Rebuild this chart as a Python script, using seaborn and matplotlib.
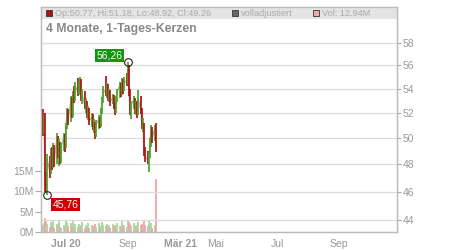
import numpy as np
import pandas as pd
import matplotlib
matplotlib.use("Agg")
import matplotlib.pyplot as plt
import matplotlib.ticker as mticker
from matplotlib.patches import Rectangle
import seaborn as sns

# ---------------- data ----------------
dates = pd.bdate_range("2020-06-08", "2020-09-29")
opens = [52.0, 50.6, 51.8, 46.5, 46.2,
         48.3, 47.5, 48.9, 47.9, 49.2,
         48.1, 50.0, 48.8, 49.5, 48.3,
         49.3, 50.1, 49.4, 50.9, 52.0,
         51.4, 53.0, 51.9, 53.5, 53.1,
         54.3, 53.7, 54.4, 54.6, 53.3,
         53.6, 52.6, 52.9, 51.9, 52.3,
         51.3, 51.7, 50.9, 51.2, 50.3,
         51.1, 51.5, 51.0, 52.1, 53.0,
         53.9, 53.7, 54.2, 53.3, 53.7,
         52.9, 53.3, 52.6, 52.1, 53.1,
         53.7, 54.3, 53.6, 54.6, 53.9,
         54.7, 54.5, 55.9, 53.7, 52.2,
         52.7, 53.1, 52.2, 52.8, 51.9,
         53.2, 52.2, 51.0, 51.1, 48.9,
         48.6, 48.3, 48.7, 49.7, 50.6,
         50.0, 50.77]
highs = [52.3, 51.8, 52.0, 47.4, 48.8,
         48.6, 49.2, 49.3, 49.6, 49.5,
         50.4, 50.2, 49.9, 49.7, 49.6,
         50.4, 50.3, 51.2, 52.4, 52.3,
         53.4, 53.3, 53.8, 54.2, 54.6,
         54.9, 54.6, 55.0, 54.8, 54.0,
         53.8, 53.2, 53.0, 52.6, 52.4,
         52.0, 51.9, 51.5, 51.3, 51.4,
         51.8, 51.7, 52.4, 53.3, 54.2,
         55.1, 54.5, 54.4, 54.0, 53.9,
         53.6, 53.5, 52.9, 53.4, 54.0,
         54.6, 54.5, 54.9, 54.8, 55.0,
         55.3, 56.26, 56.0, 54.0, 53.0,
         53.4, 53.2, 53.0, 53.0, 53.9,
         53.4, 52.4, 51.6, 51.2, 49.3,
         49.0, 48.9, 50.0, 51.0, 50.9,
         51.0, 51.18]
lows = [50.2, 50.3, 46.0, 45.9, 45.76,
        47.0, 47.3, 47.6, 47.7, 47.8,
        48.0, 48.5, 47.9, 48.0, 48.1,
        49.0, 48.9, 49.2, 50.7, 51.0,
        51.3, 51.6, 51.7, 52.8, 53.0,
        53.4, 53.5, 53.7, 53.0, 52.7,
        52.3, 52.0, 51.6, 51.4, 51.0,
        50.9, 50.6, 50.4, 49.9, 50.1,
        50.7, 50.8, 50.9, 51.9, 52.8,
        53.4, 53.2, 53.0, 52.9, 52.6,
        52.7, 52.3, 51.8, 52.0, 52.9,
        53.2, 53.3, 53.5, 53.6, 53.8,
        54.2, 54.4, 53.4, 51.8, 51.5,
        52.3, 51.9, 51.8, 51.6, 51.8,
        51.9, 50.7, 50.5, 48.6, 48.2,
        48.0, 47.4, 48.5, 49.3, 49.6,
        49.8, 48.92]
closes = [50.6, 51.5, 46.5, 46.3, 48.4,
          47.4, 48.9, 47.9, 49.2, 48.1,
          50.0, 48.8, 49.5, 48.3, 49.3,
          50.1, 49.4, 50.9, 52.0, 51.4,
          53.0, 51.9, 53.5, 53.1, 54.3,
          53.7, 54.4, 54.6, 53.3, 53.6,
          52.6, 52.9, 51.9, 52.3, 51.3,
          51.7, 50.9, 51.2, 50.3, 51.1,
          51.5, 51.0, 52.1, 53.0, 53.9,
          53.7, 54.2, 53.3, 53.7, 52.9,
          53.3, 52.6, 52.1, 53.1, 53.7,
          54.3, 53.6, 54.6, 53.9, 54.7,
          54.5, 55.9, 53.7, 52.2, 52.7,
          53.1, 52.2, 52.8, 51.9, 53.2,
          52.2, 51.0, 51.1, 48.9, 48.6,
          48.3, 48.7, 49.7, 50.6, 50.0,
          50.77, 49.26]
volumes_m = [1.6, 2.1, 3.4, 2.6, 1.9,
             1.2, 2.4, 1.5, 2.8, 1.1,
             2.0, 1.4, 2.6, 1.3, 1.0,
             1.8, 1.2, 2.9, 2.2, 1.4,
             2.3, 1.5, 2.6, 1.1, 2.0,
             1.3, 1.9, 1.7, 1.2, 2.4,
             1.0, 1.6, 1.3, 2.1, 0.9,
             1.8, 1.4, 1.1, 1.9, 1.3,
             2.2, 1.0, 1.5, 2.5, 1.7,
             1.4, 1.9, 1.2, 1.6, 1.0,
             2.0, 1.3, 1.8, 1.1, 2.3,
             1.5, 1.2, 2.6, 1.4, 1.7,
             1.3, 3.0, 2.4, 1.9, 1.5,
             2.1, 1.2, 1.8, 1.0, 2.4,
             1.6, 2.0, 1.3, 2.8, 1.7,
             1.4, 2.6, 1.9, 2.2, 1.1,
             1.6, 12.94]

price_ticks = [44, 46, 48, 50, 52, 54, 56, 58]
vol_ticks_m = [0, 5, 10, 15]
vol_tick_labels = ["0M", "5M", "10M", "15M"]
x_tick_labels = ["Jul 20", "Sep", "Mär 21", "Mai", "Jul", "Sep"]
x_tick_bold = [True, False, True, False, False, False]
header_text = "Op:50.77, Hi:51.18, Lo:48.92, Cl:49.26"
title_text = "4 Monate, 1-Tages-Kerzen"

# ---------------- derived frame ----------------
df = pd.DataFrame({"date": dates, "open": opens, "high": highs,
                   "low": lows, "close": closes, "vol": volumes_m})
df["day"] = (df["date"] - pd.Timestamp("2020-06-08")).dt.days
df["up"] = df["close"] >= df["open"]

# tick positions (day offsets, layout of the reference axis)
x_tick_pos = [23, 85, 138, 173, 234, 296]

# ---------------- style ----------------
sns.set_theme(style="white")
plt.rcParams["font.family"] = ["Liberation Sans", "DejaVu Sans"]

GRID = "#dcdcdc"
TXT = "#999999"
UP = "#4aa52a"
DOWN = "#b01212"
VUP = "#a8d8a0"
VDOWN = "#f2a4ae"

fig = plt.figure(figsize=(4.5, 2.5), dpi=100)
ax_v = fig.add_axes([41 / 450, 18 / 250, 356 / 450, 225 / 250])
ax_p = ax_v.twinx()
ax_p.patch.set_visible(False)

# volume bars
vcolors = [VUP if u else VDOWN for u in df["up"]]
ax_v.vlines(df["day"], 0, df["vol"], colors=vcolors, linewidth=1.3)
ax_v.set_ylim(0, 55.3)
ax_v.set_yticks(vol_ticks_m)
ax_v.set_yticklabels(vol_tick_labels)
ax_v.set_xlim(-2, 354)

# price candles
ccolors = [UP if u else DOWN for u in df["up"]]
sns.lineplot(data=df, x="day", y="close", ax=ax_p, color="#b0b0b0",
             linewidth=1.0, zorder=2)
ax_p.vlines(df["day"], df["low"], df["high"], colors=ccolors,
            linewidth=1.25, zorder=3)
ax_p.set_yscale("log")
ax_p.set_ylim(43.19, 61.34)
ax_p.yaxis.set_major_locator(mticker.FixedLocator(price_ticks))
ax_p.yaxis.set_major_formatter(mticker.FixedFormatter([str(t) for t in price_ticks]))
ax_p.yaxis.set_minor_locator(mticker.NullLocator())
ax_p.set_xlim(-2, 354)
ax_p.set_xlabel("")
ax_p.set_ylabel("")
ax_v.set_xlabel("")
ax_v.set_ylabel("")

# x ticks
ax_v.set_xticks(x_tick_pos)
ax_v.set_xticklabels(x_tick_labels)
for lbl, b in zip(ax_v.get_xticklabels(), x_tick_bold):
    lbl.set_fontweight("bold" if b else "normal")
    lbl.set_color("#888888" if b else TXT)
    lbl.set_fontsize(7.5)

# grid on price axes
ax_p.set_axisbelow(True)
ax_p.grid(True, axis="both", color=GRID, linewidth=0.9)
ax_p.set_xticks(x_tick_pos)
ax_p.tick_params(axis="x", which="both", length=0, labelbottom=False)

# spines / ticks
for a in (ax_v, ax_p):
    for s in a.spines.values():
        s.set_color("#bbbbbb")
        s.set_linewidth(0.9)
ax_v.tick_params(axis="y", direction="out", length=4, width=0.8,
                 color="#aaaaaa", labelcolor=TXT, labelsize=7.5, pad=1)
ax_v.tick_params(axis="x", direction="out", length=3, width=0.8,
                 color="#aaaaaa", labelcolor=TXT, pad=2)
ax_p.tick_params(axis="y", which="major", direction="out", length=3,
                 width=0.8, color="#aaaaaa", labelcolor=TXT, labelsize=7.5,
                 pad=1)

# header bar
hdr_h = 12 / 225
ax_p.add_patch(Rectangle((0, 1 - hdr_h), 1, hdr_h, transform=ax_p.transAxes,
                         facecolor="#e4e4e4", edgecolor="none", zorder=0.2))
sq = dict(transform=ax_p.transAxes, zorder=4, clip_on=False)
def square(xpx, fc):
    ax_p.add_patch(Rectangle(((xpx - 41) / 356, 1 - 9.5 / 225), 6 / 356, 6 / 225,
                             facecolor=fc, edgecolor="#333333", linewidth=0.6, **sq))
square(46, "#aa1111")
square(232, "#666666")
square(313, "#f0a8b4")
hy = 1 - 6.5 / 225
ax_p.text((55 - 41) / 356, hy, header_text, transform=ax_p.transAxes,
          fontsize=6.6, color="#aaaaaa", va="center", ha="left", zorder=4)
ax_p.text((241 - 41) / 356, hy, "volladjustiert", transform=ax_p.transAxes,
          fontsize=6.6, color="#aaaaaa", va="center", ha="left", zorder=4)
ax_p.text((322 - 41) / 356, hy, "Vol: 12.94M", transform=ax_p.transAxes,
          fontsize=6.6, color="#aaaaaa", va="center", ha="left", zorder=4)
ax_p.text((46 - 41) / 356, 1 - 22 / 225, title_text, transform=ax_p.transAxes,
          fontsize=8.8, fontweight="bold", color="#888888", va="center",
          ha="left", zorder=4)

# high / low markers
imax = int(np.argmax(df["high"].values))
imin = int(np.argmin(df["low"].values))
xmax, ymax = df["day"].iloc[imax], df["high"].iloc[imax]
xmin, ymin = df["day"].iloc[imin], df["low"].iloc[imin]
for xx, yy in ((xmax, ymax), (xmin, ymin)):
    ax_p.plot([xx], [yy], marker="o", markersize=5.5, markerfacecolor="none",
              markeredgecolor="#222222", markeredgewidth=0.8, zorder=5)
ax_p.annotate(f"{ymax:.2f}".replace(".", ","), (xmax, ymax),
              xytext=(-4, 5), textcoords="offset points", ha="right",
              va="center", fontsize=7.5, color="white", zorder=6,
              bbox=dict(boxstyle="square,pad=0.12", fc="#0a9a0a", ec="none"))
ax_p.annotate(f"{ymin:.2f}".replace(".", ","), (xmin, ymin),
              xytext=(4, -7), textcoords="offset points", ha="left",
              va="center", fontsize=7.5, color="white", zorder=6,
              bbox=dict(boxstyle="square,pad=0.12", fc="#cc0000", ec="none"))

fig.savefig("out.png", dpi=100)
